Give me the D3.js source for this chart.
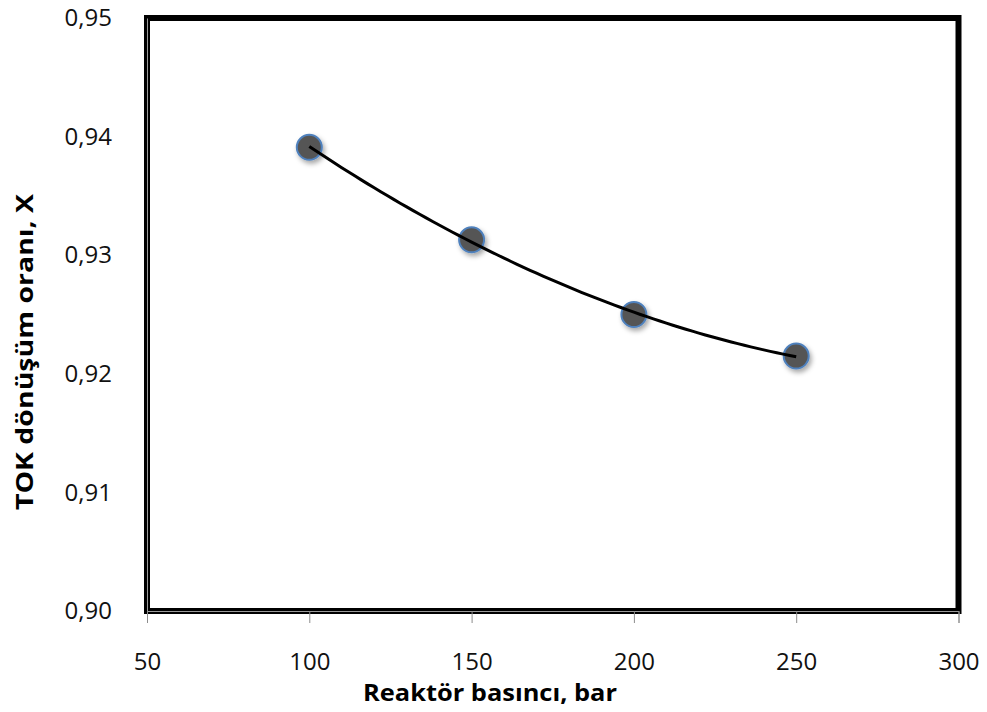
<!DOCTYPE html>
<html>
<head>
<meta charset="utf-8">
<script src="https://cdn.jsdelivr.net/npm/d3@7"></script>
<style>
  html, body { margin: 0; padding: 0; background: #fff; }
  svg { display: block; }
</style>
</head>
<body>
<svg id="chart" width="987" height="712"></svg>
<script>
// Reactor pressure (bar) vs. TOC conversion ratio
const pressures = [100, 150, 200, 250];
const conversion = [0.9391, 0.9313, 0.9250, 0.9215];
const xTicks = [50, 100, 150, 200, 250, 300];
const yTicks = [0.90, 0.91, 0.92, 0.93, 0.94, 0.95];
const xTitle = "Reaktör basıncı, bar";
const yTitle = "TOK dönüşüm oranı, X";

const W = 987, H = 712;
const plot = { left: 147, right: 958.5, top: 18, bottom: 611 };

const svg = d3.select("#chart");
const x = d3.scaleLinear().domain([50, 300]).range([plot.left, plot.right]);
const y = d3.scaleLinear().domain([0.90, 0.95]).range([plot.bottom, plot.top]);

const fmt = v => d3.format(".2f")(v).replace(".", ",");
const tickFont = "'Open Sans', 'Noto Sans', sans-serif";

// drop shadow for markers
const defs = svg.append("defs");
const f = defs.append("filter").attr("id", "shadow")
  .attr("x", "-50%").attr("y", "-50%").attr("width", "200%").attr("height", "200%");
f.append("feDropShadow").attr("dx", 2).attr("dy", 3).attr("stdDeviation", 2.5)
  .attr("flood-color", "#000").attr("flood-opacity", 0.35);

// plot frame
svg.append("rect")
  .attr("x", plot.left).attr("y", plot.top)
  .attr("width", plot.right - plot.left).attr("height", plot.bottom - plot.top)
  .attr("fill", "none").attr("stroke", "#000").attr("stroke-width", 6);

// x axis
const xAxis = svg.append("g").attr("transform", `translate(0,${plot.bottom})`)
  .call(d3.axisBottom(x).tickValues(xTicks).tickSize(12).tickPadding(30).tickFormat(d3.format("d")));
xAxis.select(".domain").attr("stroke", "#9a9a9a").attr("stroke-width", 1);
xAxis.selectAll(".tick line").attr("stroke", "#8c8c8c");
xAxis.selectAll("text").attr("font-family", tickFont).attr("font-size", 24).attr("fill", "#111");

// y axis
const yAxis = svg.append("g").attr("transform", `translate(${plot.left},0)`)
  .call(d3.axisLeft(y).tickValues(yTicks).tickSize(0).tickPadding(35).tickFormat(fmt));
yAxis.select(".domain").attr("stroke", "#9a9a9a").attr("stroke-width", 1);
yAxis.selectAll("text").attr("font-family", tickFont).attr("font-size", 24).attr("fill", "#111");

// quadratic least-squares trendline through the measured points
function polyfit2(xs, ys) {
  const n = xs.length;
  let s = [0, 0, 0, 0, 0], t = [0, 0, 0];
  for (let i = 0; i < n; i++) {
    for (let k = 0; k < 5; k++) s[k] += Math.pow(xs[i], k);
    for (let k = 0; k < 3; k++) t[k] += ys[i] * Math.pow(xs[i], k);
  }
  const A = [[s[0], s[1], s[2], t[0]], [s[1], s[2], s[3], t[1]], [s[2], s[3], s[4], t[2]]];
  for (let i = 0; i < 3; i++) {
    for (let j = i + 1; j < 3; j++) {
      const r = A[j][i] / A[i][i];
      for (let k = i; k < 4; k++) A[j][k] -= r * A[i][k];
    }
  }
  const c = [0, 0, 0];
  for (let i = 2; i >= 0; i--) {
    let v = A[i][3];
    for (let k = i + 1; k < 3; k++) v -= A[i][k] * c[k];
    c[i] = v / A[i][i];
  }
  return c;
}
const coef = polyfit2(pressures, conversion);
const fit = d3.range(100, 250.01, 2).map(p => [p, coef[0] + coef[1] * p + coef[2] * p * p]);

// markers
svg.append("g").selectAll("circle")
  .data(pressures.map((p, i) => [p, conversion[i]]))
  .join("circle")
  .attr("cx", d => x(d[0])).attr("cy", d => y(d[1]))
  .attr("r", 12.5)
  .attr("fill", "#555555")
  .attr("stroke", "#4f81bd").attr("stroke-width", 2)
  .attr("filter", "url(#shadow)");

// trendline
svg.append("path")
  .datum(fit)
  .attr("fill", "none").attr("stroke", "#000").attr("stroke-width", 3)
  .attr("d", d3.line().x(d => x(d[0])).y(d => y(d[1])));

// axis titles
svg.append("text")
  .attr("x", 490).attr("y", 701)
  .attr("text-anchor", "middle")
  .attr("font-family", tickFont).attr("font-weight", "bold").attr("font-size", 24)
  .attr("textLength", 254).attr("lengthAdjust", "spacingAndGlyphs")
  .text(xTitle);

svg.append("text")
  .attr("transform", "translate(33,352) rotate(-90)")
  .attr("text-anchor", "middle")
  .attr("font-family", tickFont).attr("font-weight", "bold").attr("font-size", 24)
  .attr("textLength", 316).attr("lengthAdjust", "spacingAndGlyphs")
  .text(yTitle);
</script>
</body>
</html>
